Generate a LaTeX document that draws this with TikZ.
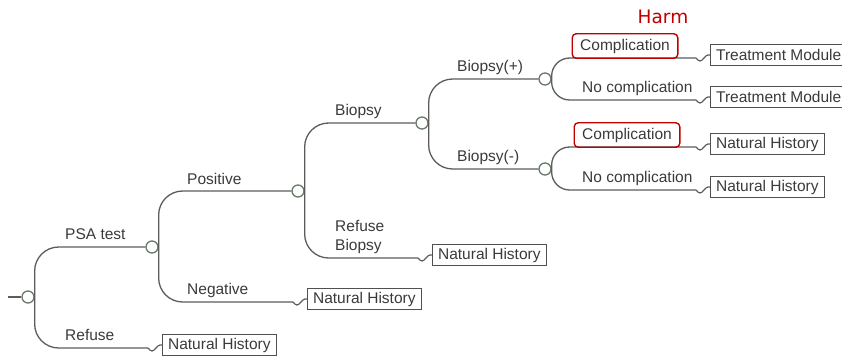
\documentclass[tikz,border=0pt]{standalone}
\usepackage{fontspec}
\setmainfont{Liberation Sans}
\newfontfamily\harmfont{DejaVu Sans}
\definecolor{linegray}{HTML}{5C5C5C}
\definecolor{labelgray}{HTML}{3A3A3A}
\definecolor{boxgray}{HTML}{505050}
\definecolor{chancegreen}{HTML}{6A7A6A}
\definecolor{harmred}{HTML}{C00000}
\begin{document}
\begin{tikzpicture}[x=1pt,y=-1pt,
  branch/.style={draw=linegray, line width=1.3pt, rounded corners=24pt},
  shortbranch/.style={branch, rounded corners=18pt},
  wire/.style={draw=linegray, line width=1.2pt},
  chance/.style={circle, draw=chancegreen, line width=1.3pt, fill=white,
    minimum size=12pt, inner sep=0pt},
  lbl/.style={anchor=base west, inner sep=0pt, text=labelgray,
    font=\fontsize{15.5}{19}\selectfont},
  harmlbl/.style={anchor=base, draw=harmred, line width=1.4pt, rounded corners=4pt,
    inner xsep=8pt, inner ysep=5pt, text=labelgray,
    font=\fontsize{15.5}{19}\selectfont},
  term/.style={draw=boxgray, line width=1.2pt, anchor=west, inner xsep=5.5pt,
    inner ysep=3pt, minimum height=21pt, text=labelgray,
    font=\fontsize{15.5}{19}\selectfont},
]
\useasboundingbox (0,0) rectangle (842,357);
\clip (0,0) rectangle (842,357);

% chance nodes
\coordinate (start) at (8,297);
\node[chance] (R)  at (28,297)  {};
\node[chance] (C1) at (152,247) {};
\node[chance] (C2) at (298,191) {};
\node[chance] (C3) at (422,123) {};
\node[chance] (C4) at (545,79)  {};
\node[chance] (C5) at (545,169) {};

% terminal boxes
\node[term] (T1) at (162,345) {Natural History};
\node[term] (T2) at (307,299) {Natural History};
\node[term] (T3) at (432,255) {Natural History};
\node[term] (T4) at (710,55)  {Treatment Module};
\node[term] (T5) at (710,97)  {Treatment Module};
\node[term] (T6) at (710,144) {Natural History};
\node[term] (T7) at (710,187) {Natural History};

% ends of the terminal branches
\coordinate (e1) at (148,348);
\coordinate (e2) at (293,302);
\coordinate (e3) at (418,258);
\coordinate (e4) at (696,58);
\coordinate (e5) at (696,100);
\coordinate (e6) at (696,147);
\coordinate (e7) at (696,190);

% branches
\draw[wire] (start) -- (R.west);
\draw[branch] (R.east) |- (C1.west);
\draw[branch] (R.east) |- (e1);
\draw[branch] (C1.east) |- (C2.west);
\draw[branch] (C1.east) |- (e2);
\draw[branch] (C2.east) |- (C3.west);
\draw[branch] (C2.east) |- (e3);
\draw[branch] (C3.east) |- (C4.west);
\draw[branch] (C3.east) |- (C5.west);
\draw[shortbranch] (C4.east) |- (e4);
\draw[shortbranch] (C4.east) |- (e5);
\draw[shortbranch] (C5.east) |- (e6);
\draw[shortbranch] (C5.east) |- (e7);

% tildes into the terminal boxes
\foreach \e/\t in {e1/T1,e2/T2,e3/T3,e4/T4,e5/T5,e6/T6,e7/T7}
  \draw[wire] (\e) sin ++(4,3) cos ++(4,-3) sin ++(4,-3) -- (\t.west);

% branch labels
\node[lbl] (lpsa) at (65,239) {PSA test};
\node[lbl] (lref) at (65,340) {Refuse};
\node[lbl] (lpos) at (187,184) {Positive};
\node[lbl] (lneg) at (187,294) {Negative};
\node[lbl] (lbio) at (335,115) {Biopsy};
\node[lbl, anchor=south west, align=left] (lrefb) at (335,254) {Refuse\\Biopsy};
\node[lbl] (lbp) at (457,71) {Biopsy(+)};
\node[lbl] (lbm) at (457,161) {Biopsy(-)};
\node[harmlbl] (lc1) at (625,50) {Complication};
\node[lbl] (ln1) at (582,92) {No complication};
\node[harmlbl] (lc2) at (627,139) {Complication};
\node[lbl] (ln2) at (582,182) {No complication};

% annotation
\node[text=harmred, font=\harmfont\fontsize{18.5}{22}\selectfont] (harm) at (663,17) {Harm};
\end{tikzpicture}
\end{document}
